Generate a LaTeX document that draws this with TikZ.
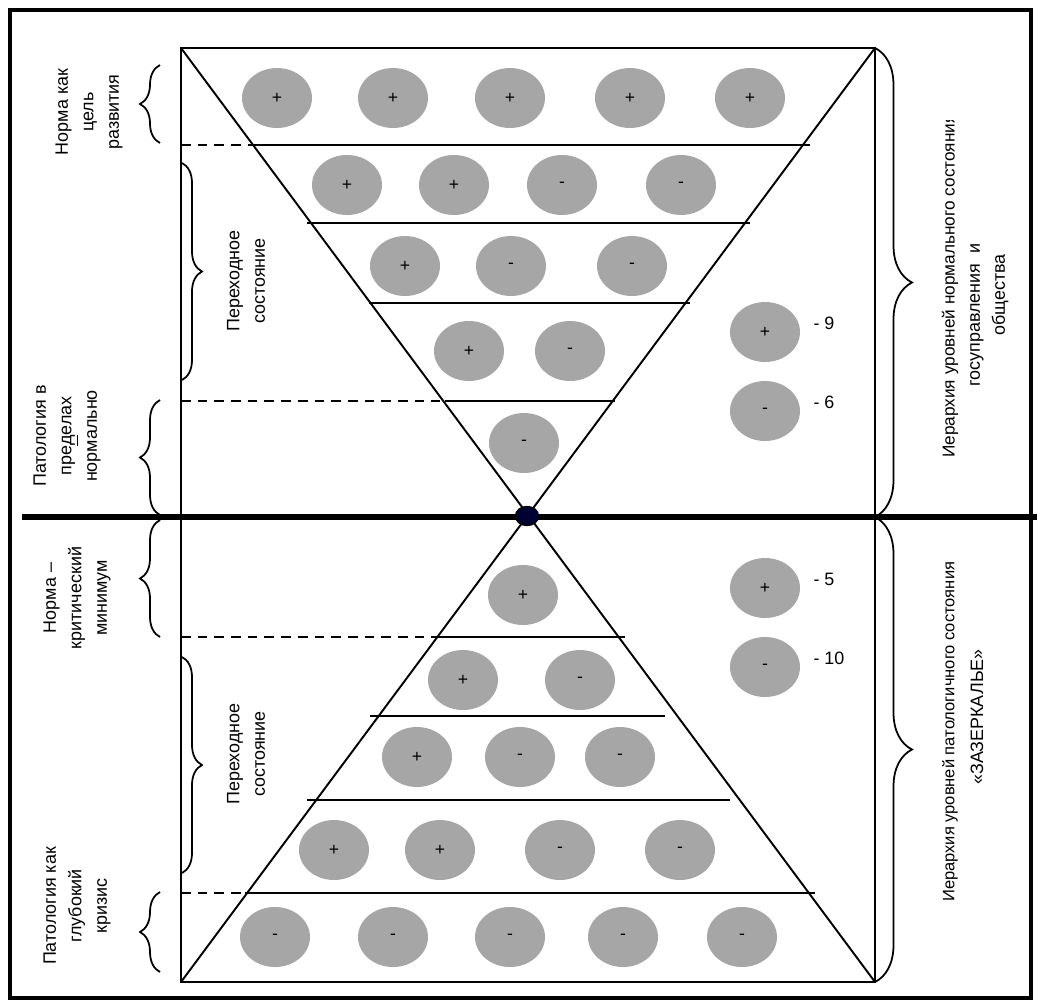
\documentclass[tikz,border=0pt]{standalone}
\usepackage{fontspec}
\setmainfont{Liberation Sans}
\usetikzlibrary{shapes.geometric,positioning,decorations.pathreplacing}

\definecolor{ballgray}{HTML}{A6A6A6}
\definecolor{dotnavy}{HTML}{000033}

\tikzset{
  ball/.style={ellipse, fill=ballgray, minimum width=1.4cm, minimum height=1.2cm, inner sep=0pt, font=\fontsize{10}{10}\selectfont},
  level/.style={line width=1.1pt},
  cutline/.style={line width=1.1pt, dash pattern=on 5.5pt off 4pt},
  bracel/.style={decorate, decoration={brace, amplitude=0.4cm}, line width=1pt},
  bracer/.style={decorate, decoration={brace, amplitude=0.74cm}, line width=1pt},
  vlabel/.style={rotate=90, align=center, font=\fontsize{10.2}{14.5}\selectfont},
  key/.style={font=\fontsize{10.2}{12}\selectfont},
}

\begin{document}
\begin{tikzpicture}[x=0.02cm, y=-0.02cm]
    \useasboundingbox (0,0) rectangle (1037,1001);

    % Frame
    \draw[line width=2.2pt] (10,10) rectangle (1031,998);

    % Box and diagonals
    \coordinate (tl) at (181,48);
    \coordinate (tr) at (875,48);
    \coordinate (bl) at (181,982);
    \coordinate (br) at (875,982);
    \draw[level] (tl) rectangle (br);
    \draw[level] (tl) -- (br);
    \draw[level] (tr) -- (bl);

    % Axis
    \coordinate (axl) at (22,517);
    \coordinate (axr) at (1037,517);
    \draw[line width=3pt] (axl) -- (axr);
    \node[ellipse, draw, line width=0.8pt, fill=dotnavy, minimum width=0.46cm, minimum height=0.38cm, inner sep=0pt] (hub) at (527,516) {};

    % Upper levels
    \draw[cutline] (181,145) -- (250,145);
    \draw[level] (250,145) -- (810,145);
    \draw[level] (307,223) -- (750,223);
    \draw[level] (369,303) -- (690,303);
    \draw[cutline] (181,401) -- (440,401);
    \draw[level] (445,401) -- (615,401);

    % Lower levels
    \draw[cutline] (181,637) -- (440,637);
    \draw[level] (440,637) -- (625,637);
    \draw[level] (370,716) -- (665,716);
    \draw[level] (307,800) -- (730,800);
    \draw[cutline] (181,893) -- (245,893);
    \draw[level] (245,893) -- (815,893);

    % Upper balls
    \node[ball] (u11) at (277,98) {+};
    \node[ball] (u12) at (393,98) {+};
    \node[ball] (u13) at (510,98) {+};
    \node[ball] (u14) at (630,98) {+};
    \node[ball] (u15) at (750,98) {+};
    \node[ball] (u21) at (347,185) {+};
    \node[ball] (u22) at (454,185) {+};
    \node[ball] (u23) at (562,185) {-};
    \node[ball] (u24) at (681,185) {-};
    \node[ball] (u31) at (405,266) {+};
    \node[ball] (u32) at (511,266) {-};
    \node[ball] (u33) at (632,266) {-};
    \node[ball] (u41) at (469,351) {+};
    \node[ball] (u42) at (570,351) {-};
    \node[ball] (u51) at (524,443) {-};

    % Lower balls
    \node[ball] (d11) at (523,595) {+};
    \node[ball] (d21) at (463,680) {+};
    \node[ball] (d22) at (580,680) {-};
    \node[ball] (d31) at (417,757) {+};
    \node[ball] (d32) at (520,757) {-};
    \node[ball] (d33) at (620,757) {-};
    \node[ball] (d41) at (334,850) {+};
    \node[ball] (d42) at (440,850) {+};
    \node[ball] (d43) at (560,850) {-};
    \node[ball] (d44) at (680,850) {-};
    \node[ball] (d51) at (275,937) {-};
    \node[ball] (d52) at (393,937) {-};
    \node[ball] (d53) at (510,937) {-};
    \node[ball] (d54) at (623,937) {-};
    \node[ball] (d55) at (742,937) {-};

    % Legend
    \node[ball] (lg9) at (765,332) {+};
    \node[key, right=0.14cm of lg9, yshift=0.18cm] (lab9) {- 9};
    \node[ball] (lg6) at (765,411) {-};
    \node[key, right=0.14cm of lg6, yshift=0.18cm] (lab6) {- 6};
    \node[ball] (lg5) at (765,588) {+};
    \node[key, right=0.14cm of lg5, yshift=0.18cm] (lab5) {- 5};
    \node[ball] (lg10) at (765,667) {-};
    \node[key, right=0.14cm of lg10, yshift=0.18cm] (lab10) {- 10};

    % Left braces
    \draw[bracel] (160,143) -- (160,65);
    \draw[bracel] (182,163) -- (182,380);
    \draw[bracel] (160,515) -- (160,400);
    \draw[bracel] (160,637) -- (160,520);
    \draw[bracel] (182,657) -- (182,873);
    \draw[bracel] (160,972) -- (160,892);

    % Left labels
    \node[vlabel] (goal) at (89,112) {Норма как\\цель\\развития};
    \node[vlabel] (transup) at (246,281) {Переходное\\состояние};
    \node[vlabel] (pathnorm) at (67,436) {Патология в\\пре\underline{д}елах\\нормально};
    \node[vlabel] (minimum) at (77,598) {Норма –\\критический\\минимум};
    \node[vlabel] (translow) at (246,754) {Переходное\\состояние};
    \node[vlabel] (crisis) at (77,906) {Патология как\\глубокий\\кризис};

    % Right braces
    \draw[bracer] (875,48) -- (875,517);
    \draw[bracer] (875,517) -- (875,982);

    % Right labels
    \begin{scope}
        \clip (920,120) rectangle (1031,517);
        \node[vlabel, anchor=west, font=\fontsize{9.8}{14}\selectfont] (normhead) at (950,464) {Иерархия уровней нормального состояния};
    \end{scope}
    \node[vlabel] (normgov) at (977,315) {госуправления~ и};
    \node[vlabel] (normsoc) at (1000,295) {общества};
    \begin{scope}
        \clip (920,548) rectangle (1031,990);
        \node[vlabel, anchor=west, font=\fontsize{9.4}{14}\selectfont] (pathhead) at (950,908) {Иерархия уровней патологичного состояния};
    \end{scope}
    \node[vlabel] (mirror) at (977,717) {«ЗАЗЕРКАЛЬЕ»};
\end{tikzpicture}
\end{document}
